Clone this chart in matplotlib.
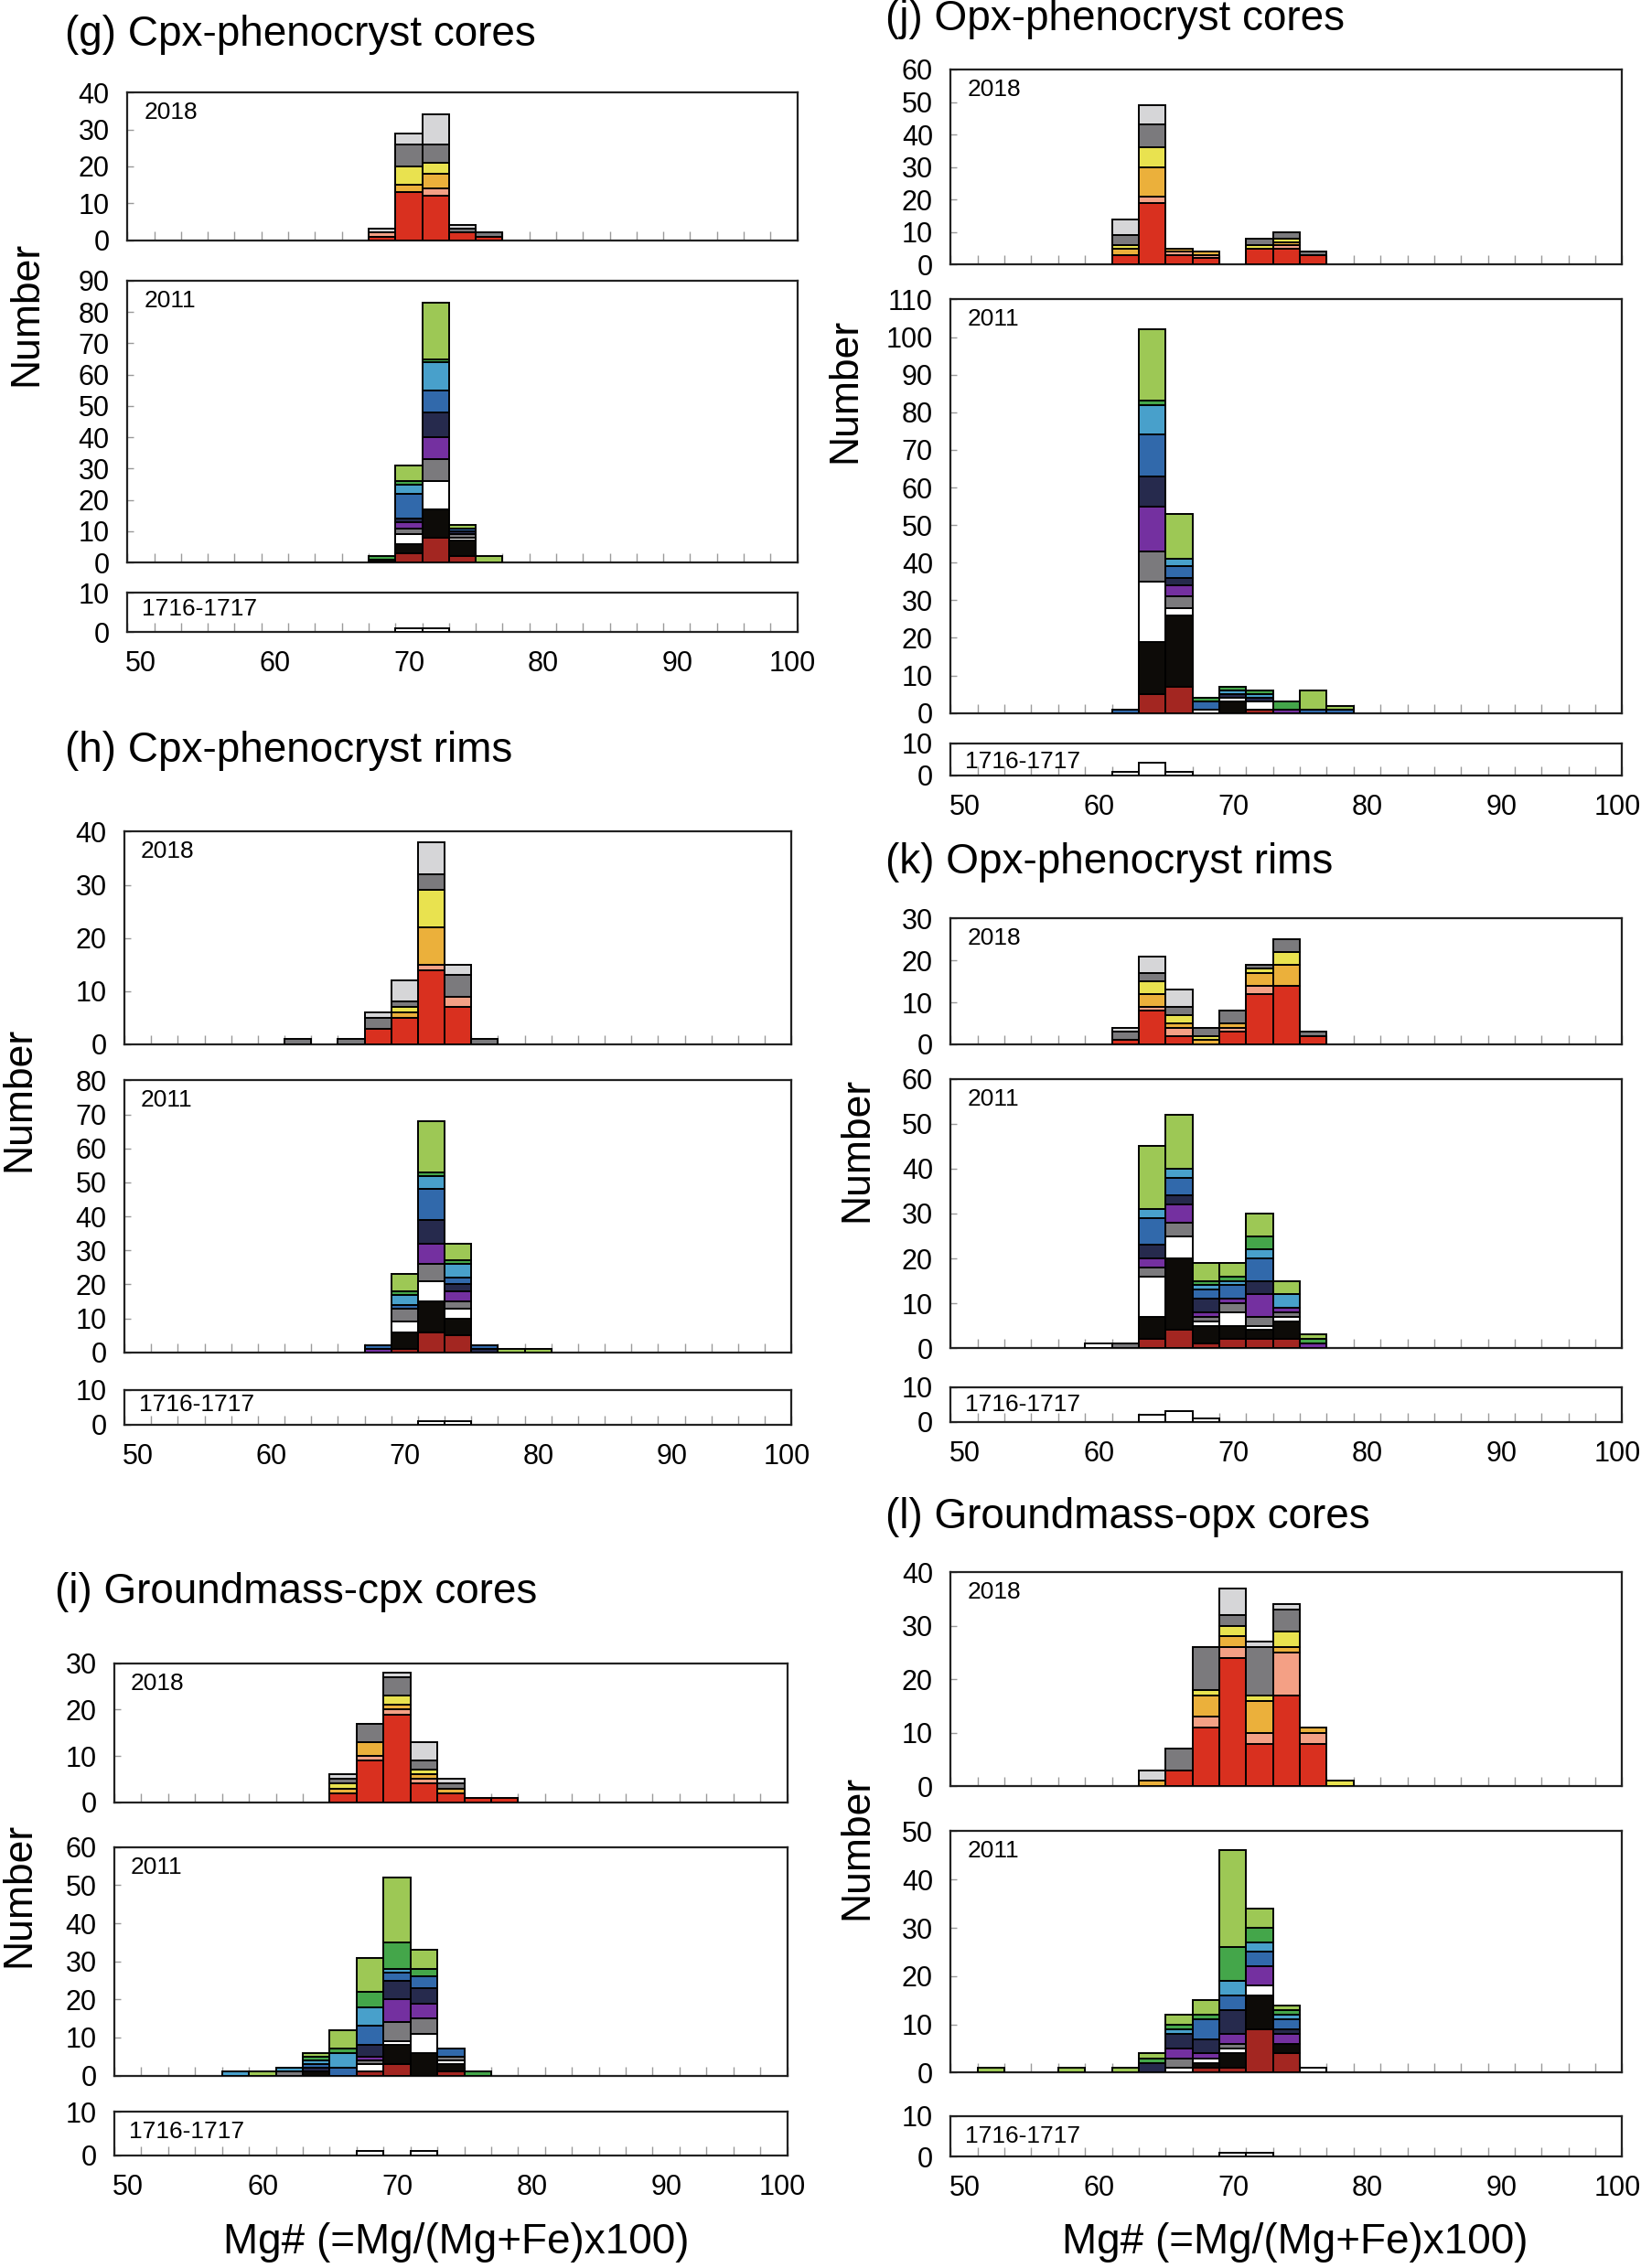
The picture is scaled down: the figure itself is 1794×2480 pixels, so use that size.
import numpy as np
import matplotlib
matplotlib.use("Agg")
import matplotlib.pyplot as plt
from matplotlib.transforms import ScaledTranslation, blended_transform_factory

plt.rcParams['font.family'] = ['Liberation Sans', 'DejaVu Sans']

# ---------------- DATA (counts per 2-unit Mg# bin, bin left edges) ----------------
ORDER_2018 = ["red", "salmon", "orange", "yellow", "gray", "lgray"]
ORDER_2011 = ["dred", "black", "white", "gray", "purple", "navy", "blue", "lblue", "green", "lgreen"]

# (g) Cpx-phenocryst cores
G18_BINS = [68, 70, 72, 74, 76]
G18 = {"red": [1, 13, 12, 2, 1], "salmon": [1, 0, 2, 0, 0], "orange": [0, 2, 4, 0, 0],
       "yellow": [0, 5, 3, 0, 0], "gray": [0, 6, 5, 1, 1], "lgray": [1, 3, 8, 1, 0]}
G11_BINS = [68, 70, 72, 74, 76]
G11 = {"dred": [0, 3, 8, 2, 0], "black": [1, 3, 9, 5, 0], "white": [0, 3, 9, 1, 0],
       "gray": [0, 2, 7, 1, 0], "purple": [0, 2, 7, 0, 0], "navy": [0, 1, 8, 1, 0],
       "blue": [0, 8, 7, 1, 0], "lblue": [0, 3, 9, 0, 0], "green": [1, 1, 1, 0, 0],
       "lgreen": [0, 5, 18, 1, 2]}
G17_BINS = [70, 72]
G17 = {"white": [1, 1]}

# (h) Cpx-phenocryst rims
H18_BINS = [62, 64, 66, 68, 70, 72, 74, 76]
H18 = {"red": [0, 0, 0, 3, 5, 14, 7, 0], "salmon": [0, 0, 0, 0, 0, 1, 2, 0],
       "orange": [0, 0, 0, 0, 1, 7, 0, 0], "yellow": [0, 0, 0, 0, 1, 7, 0, 0],
       "gray": [1, 0, 1, 2, 1, 3, 4, 1], "lgray": [0, 0, 0, 1, 4, 6, 2, 0]}
H11_BINS = [68, 70, 72, 74, 76, 78, 80]
H11 = {"dred": [0, 1, 6, 5, 0, 0, 0], "black": [0, 5, 9, 5, 0, 0, 0],
       "white": [0, 3, 6, 3, 0, 0, 0], "gray": [0, 4, 5, 2, 0, 0, 0],
       "purple": [1, 0, 6, 3, 0, 0, 0], "navy": [0, 0, 7, 2, 1, 0, 0],
       "blue": [1, 1, 9, 2, 1, 0, 0], "lblue": [0, 3, 4, 4, 0, 0, 0],
       "green": [0, 1, 1, 1, 0, 0, 0], "lgreen": [0, 5, 15, 5, 0, 1, 1]}
H17_BINS = [72, 74]
H17 = {"white": [1, 1]}

# (i) Groundmass-cpx cores
I18_BINS = [66, 68, 70, 72, 74, 76, 78]
I18 = {"red": [2, 9, 19, 4, 2, 1, 1], "salmon": [0, 1, 1, 1, 0, 0, 0],
       "orange": [1, 3, 1, 1, 1, 0, 0], "yellow": [1, 0, 2, 1, 0, 0, 0],
       "gray": [1, 4, 4, 2, 1, 0, 0], "lgray": [1, 0, 1, 4, 1, 0, 0]}
I11_BINS = [58, 60, 62, 64, 66, 68, 70, 72, 74, 76]
I11 = {"dred": [0, 0, 0, 0, 0, 1, 3, 0, 1, 0], "black": [0, 0, 0, 1, 0, 0, 5, 6, 2, 0],
       "white": [0, 0, 0, 0, 0, 2, 1, 5, 1, 0], "gray": [0, 0, 1, 0, 0, 1, 5, 4, 1, 0],
       "purple": [0, 0, 0, 0, 0, 1, 6, 4, 0, 0], "navy": [0, 0, 0, 1, 0, 3, 5, 4, 0, 0],
       "blue": [0, 0, 0, 1, 2, 5, 2, 3, 2, 0], "lblue": [1, 0, 1, 1, 4, 5, 1, 0, 0, 0],
       "green": [0, 0, 0, 1, 1, 4, 7, 2, 0, 1], "lgreen": [0, 1, 0, 1, 5, 9, 17, 5, 0, 0]}
I17_BINS = [68, 70, 72]
I17 = {"white": [1, 0, 1]}

# (j) Opx-phenocryst cores
J18_BINS = [62, 64, 66, 68, 70, 72, 74, 76]
J18 = {"red": [3, 19, 3, 2, 0, 5, 5, 3], "salmon": [0, 2, 1, 1, 0, 0, 1, 0],
       "orange": [2, 9, 1, 1, 0, 0, 1, 0], "yellow": [1, 6, 0, 0, 0, 1, 1, 0],
       "gray": [3, 7, 0, 0, 0, 2, 2, 1], "lgray": [5, 6, 0, 0, 0, 0, 0, 0]}
J11_BINS = [62, 64, 66, 68, 70, 72, 74, 76, 78]
J11 = {"dred": [0, 5, 7, 0, 0, 1, 0, 0, 0], "black": [0, 14, 19, 0, 3, 0, 0, 0, 0],
       "white": [0, 16, 2, 1, 1, 2, 0, 0, 0], "gray": [0, 8, 3, 0, 0, 0, 0, 0, 0],
       "purple": [0, 12, 3, 0, 0, 0, 1, 0, 0], "navy": [0, 8, 2, 0, 1, 1, 0, 0, 0],
       "blue": [1, 11, 3, 2, 0, 0, 0, 1, 1], "lblue": [0, 8, 2, 0, 1, 1, 0, 0, 0],
       "green": [0, 1, 0, 1, 1, 1, 2, 0, 0], "lgreen": [0, 19, 12, 0, 0, 0, 0, 5, 1]}
J17_BINS = [62, 64, 66]
J17 = {"white": [1, 4, 1]}

# (k) Opx-phenocryst rims
K18_BINS = [62, 64, 66, 68, 70, 72, 74, 76]
K18 = {"red": [1, 8, 2, 0, 3, 12, 14, 2], "salmon": [0, 1, 2, 0, 1, 2, 0, 0],
       "orange": [0, 3, 1, 1, 1, 3, 5, 0], "yellow": [0, 3, 2, 1, 0, 1, 3, 0],
       "gray": [2, 2, 2, 2, 3, 1, 3, 1], "lgray": [1, 4, 4, 0, 0, 0, 0, 0]}
K11_BINS = [60, 62, 64, 66, 68, 70, 72, 74, 76]
K11 = {"dred": [0, 0, 2, 4, 1, 2, 2, 2, 0], "black": [0, 0, 5, 16, 4, 3, 2, 4, 0],
       "white": [1, 0, 9, 5, 1, 3, 1, 1, 0], "gray": [0, 1, 2, 3, 1, 2, 2, 1, 0],
       "purple": [0, 0, 2, 4, 1, 1, 5, 1, 1], "navy": [0, 0, 3, 2, 3, 0, 3, 0, 0],
       "blue": [0, 0, 6, 4, 2, 3, 5, 0, 0], "lblue": [0, 0, 2, 2, 1, 1, 2, 3, 0],
       "green": [0, 0, 0, 0, 1, 1, 3, 0, 1], "lgreen": [0, 0, 14, 12, 4, 3, 5, 3, 1]}
K17_BINS = [64, 66, 68]
K17 = {"white": [2, 3, 1]}

# (l) Groundmass-opx cores
L18_BINS = [64, 66, 68, 70, 72, 74, 76, 78]
L18 = {"red": [0, 3, 11, 24, 8, 17, 8, 0], "salmon": [0, 0, 2, 2, 2, 8, 2, 0],
       "orange": [1, 0, 4, 2, 6, 1, 1, 0], "yellow": [0, 0, 1, 2, 1, 3, 0, 1],
       "gray": [0, 4, 8, 2, 9, 4, 0, 0], "lgray": [2, 0, 0, 5, 1, 1, 0, 0]}
L11_BINS = [52, 54, 56, 58, 60, 62, 64, 66, 68, 70, 72, 74, 76]
L11 = {"dred": [0, 0, 0, 0, 0, 0, 0, 0, 1, 1, 9, 4, 0],
       "black": [0, 0, 0, 0, 0, 0, 0, 0, 1, 3, 7, 2, 0],
       "white": [0, 0, 0, 0, 0, 0, 0, 1, 1, 1, 2, 0, 1],
       "gray": [0, 0, 0, 0, 0, 0, 0, 2, 0, 1, 0, 0, 0],
       "purple": [0, 0, 0, 0, 0, 0, 0, 2, 1, 2, 4, 2, 0],
       "navy": [0, 0, 0, 0, 0, 0, 2, 3, 3, 5, 0, 1, 0],
       "blue": [0, 0, 0, 0, 0, 0, 0, 0, 4, 3, 3, 2, 0],
       "lblue": [0, 0, 0, 0, 0, 0, 0, 1, 0, 3, 2, 1, 0],
       "green": [0, 0, 0, 0, 0, 0, 1, 1, 1, 7, 3, 1, 0],
       "lgreen": [1, 0, 0, 1, 0, 1, 1, 2, 3, 20, 4, 1, 0]}
L17_BINS = [70, 72]
L17 = {"white": [1, 1]}

YEAR_LABELS = ["2018", "2011", "1716-1717"]
XTICKS = [50, 60, 70, 80, 90, 100]
XLABEL = "Mg# (=Mg/(Mg+Fe)x100)"

# ---------------- STYLE ----------------
COLORS = {"red": "#d9301f", "salmon": "#f4a085", "orange": "#ebb03b", "yellow": "#e9e24f",
          "gray": "#7b7a7d", "lgray": "#d6d6d8",
          "dred": "#a32621", "black": "#0d0b08", "white": "#ffffff", "purple": "#7430a0",
          "navy": "#262a4d", "blue": "#3169ab", "lblue": "#48a0cb", "green": "#44a64a",
          "lgreen": "#9dc855"}

W, H = 1134.0, 1568.0  # layout reference grid


def rect(x0, y0, x1, y1):
    return [x0 / W, 1 - y1 / H, (x1 - x0) / W, (y1 - y0) / H]


PANELS = [
    dict(title="(g) Cpx-phenocryst cores", tpos=(45, 24), x=(88, 551),
         ys=[(64, 166), (194, 389), (410, 437)], ymax=[40, 90, 10],
         data=[(G18_BINS, G18, ORDER_2018), (G11_BINS, G11, ORDER_2011), (G17_BINS, G17, ["white"])],
         ylab=(18, 217), xlab=None, y17=0.6),
    dict(title="(h) Cpx-phenocryst rims", tpos=(45, 519), x=(86, 547),
         ys=[(575, 722), (747, 935), (961, 985)], ymax=[40, 80, 10],
         data=[(H18_BINS, H18, ORDER_2018), (H11_BINS, H11, ORDER_2011), (H17_BINS, H17, ["white"])],
         ylab=(13, 760), xlab=None, y17=0.58),
    dict(title="(i) Groundmass-cpx cores", tpos=(38, 1101), x=(79, 544),
         ys=[(1150, 1246), (1277, 1435), (1460, 1490)], ymax=[30, 60, 10],
         data=[(I18_BINS, I18, ORDER_2018), (I11_BINS, I11, ORDER_2011), (I17_BINS, I17, ["white"])],
         ylab=(13, 1310), xlab=(315, 1550), y17=0.55),
    dict(title="(j) Opx-phenocryst cores", tpos=(612, 13), x=(657, 1121),
         ys=[(48, 183), (207, 493), (514, 536)], ymax=[60, 110, 10],
         data=[(J18_BINS, J18, ORDER_2018), (J11_BINS, J11, ORDER_2011), (J17_BINS, J17, ["white"])],
         ylab=(584, 270), xlab=None, y17=0.42),
    dict(title="(k) Opx-phenocryst rims", tpos=(612, 596), x=(657, 1121),
         ys=[(635, 722), (746, 932), (959, 983)], ymax=[30, 60, 10],
         data=[(K18_BINS, K18, ORDER_2018), (K11_BINS, K11, ORDER_2011), (K17_BINS, K17, ["white"])],
         ylab=(592, 795), xlab=None, y17=0.5),
    dict(title="(l) Groundmass-opx cores", tpos=(612, 1049), x=(657, 1121),
         ys=[(1087, 1235), (1266, 1433), (1463, 1491)], ymax=[40, 50, 10],
         data=[(L18_BINS, L18, ORDER_2018), (L11_BINS, L11, ORDER_2011), (L17_BINS, L17, ["white"])],
         ylab=(592, 1277), xlab=(895, 1550), y17=0.5),
]

fig = plt.figure(figsize=(17.94, 24.80), dpi=100)
fig.patch.set_facecolor("white")


def px(dx, dy):
    return ScaledTranslation(dx / 100.0, dy / 100.0, fig.dpi_scale_trans)


def draw_stack(ax, bins, data, order):
    b = np.array(bins, float)
    bottom = np.zeros(len(b))
    for key in order:
        vals = np.array(data[key], float)
        m = vals > 0
        if m.any():
            ax.bar(b[m], vals[m], width=2, bottom=bottom[m], align="edge",
                   color=COLORS[key], edgecolor="black", linewidth=1.4, zorder=3)
        bottom += vals


for P in PANELS:
    x0, x1 = P["x"]
    for k, ((y0, y1), ymax, (bins, data, order)) in enumerate(zip(P["ys"], P["ymax"], P["data"])):
        ax = fig.add_axes(rect(x0, y0, x1, y1))
        draw_stack(ax, bins, data, order)
        ax.set_xlim(50, 100)
        ax.set_ylim(0, ymax)
        ax.set_yticks(np.arange(0, ymax + 1, 10))
        ax.set_xticks(XTICKS)
        ax.set_xticks(np.arange(52, 100, 2), minor=True)
        ax.tick_params(axis="y", direction="in", length=5, width=1.0, color="#9a9a9a",
                       labelsize=22, pad=14, right=False)
        ax.tick_params(axis="x", which="both", direction="in", length=7, width=1.0,
                       color="#9a9a9a", labelbottom=False, top=False)
        for sp in ax.spines.values():
            sp.set_linewidth(1.6)
            sp.set_color("#222222")
        # year label
        if k < 2:
            ax.text(0, 1, YEAR_LABELS[k], transform=ax.transAxes + px(18, -22),
                    ha="left", va="center", fontsize=19)
        else:
            ax.text(0, P["y17"], YEAR_LABELS[k], transform=ax.transAxes + px(16, 0),
                    ha="left", va="center", fontsize=19)
            tr = blended_transform_factory(ax.transData, ax.transAxes)
            for v in XTICKS:
                dx = -5 if v == 100 else 15
                ax.text(v, 0, str(v), transform=tr + px(dx, -20), ha="center",
                        va="top", fontsize=22)
    # title
    fig.text(P["tpos"][0] / W, 1 - P["tpos"][1] / H, P["title"], ha="left",
             va="center", fontsize=33)
    fig.text(P["ylab"][0] / W, 1 - P["ylab"][1] / H, "Number", rotation=90,
             ha="center", va="center", fontsize=32)
    if P["xlab"] is not None:
        fig.text(P["xlab"][0] / W, 1 - P["xlab"][1] / H, XLABEL, ha="center",
                 va="center", fontsize=33)

fig.savefig("out.png", dpi=100, facecolor="white")
